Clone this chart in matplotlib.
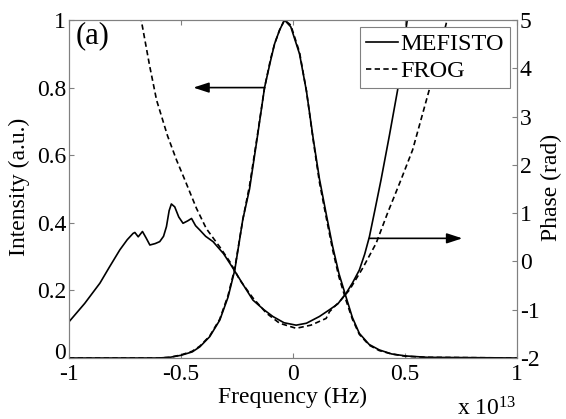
import matplotlib
matplotlib.use("Agg")
import matplotlib.pyplot as plt
from matplotlib.ticker import FuncFormatter, MultipleLocator
import numpy as np

plt.rcParams.update({
    "font.family": ["Liberation Serif", "DejaVu Serif"],
    "font.size": 17,
    "mathtext.fontset": "custom",
    "mathtext.rm": "Liberation Serif",
    "mathtext.it": "Liberation Serif:italic",
    "axes.linewidth": 0.8,
})

SCALE = 1e13  # frequency axis scaling (Hz)

# intensity spectra (a.u.), frequency in units of 1e13 Hz
int_mef_x = [-1.0, -0.6, -0.55, -0.5, -0.45, -0.416, -0.372, -0.327, -0.29, -0.26,
             -0.224, -0.194, -0.16, -0.127, -0.10, -0.082, -0.06, -0.038, -0.01,
             0.029, 0.06, 0.09, 0.118, 0.15, 0.177, 0.205, 0.237, 0.265, 0.296,
             0.34, 0.385, 0.44, 0.504, 0.6, 1.0]
int_mef_y = [0.0, 0.0, 0.002, 0.008, 0.018, 0.033, 0.063, 0.112, 0.18, 0.26,
             0.41, 0.50, 0.65, 0.80, 0.88, 0.93, 0.97, 1.0, 0.98,
             0.90, 0.79, 0.65, 0.53, 0.42, 0.33, 0.25, 0.18, 0.12, 0.073,
             0.04, 0.024, 0.012, 0.006, 0.002, 0.0]

int_frog_x = int_mef_x
int_frog_y = [0.0, 0.0, 0.002, 0.009, 0.02, 0.035, 0.065, 0.115, 0.185, 0.265,
              0.41, 0.51, 0.655, 0.80, 0.885, 0.93, 0.97, 1.0, 0.985,
              0.905, 0.79, 0.645, 0.52, 0.41, 0.32, 0.24, 0.17, 0.115, 0.07,
              0.038, 0.022, 0.012, 0.005, 0.002, 0.0]

# spectral phase (rad)
ph_mef_x = [-1.0, -0.93, -0.862, -0.82, -0.773, -0.74, -0.714, -0.706, -0.691, -0.672,
            -0.655, -0.639, -0.615, -0.595, -0.578, -0.565, -0.553, -0.543, -0.528,
            -0.51, -0.491, -0.47, -0.453, -0.435, -0.416, -0.39, -0.357, -0.31,
            -0.268, -0.22, -0.179, -0.13, -0.09, -0.04, 0.014, 0.06, 0.118, 0.163,
            0.2, 0.237, 0.265, 0.296, 0.32, 0.341, 0.365, 0.393, 0.43, 0.467, 0.51, 0.53]
ph_mef_y = [-1.25, -0.87, -0.45, -0.12, 0.24, 0.45, 0.58, 0.60, 0.51, 0.62,
            0.48, 0.34, 0.37, 0.41, 0.52, 0.72, 1.05, 1.19, 1.13,
            0.92, 0.79, 0.84, 0.89, 0.74, 0.65, 0.52, 0.41, 0.16,
            -0.14, -0.50, -0.80, -1.0, -1.14, -1.27, -1.32, -1.28, -1.14, -1.0,
            -0.88, -0.66, -0.45, -0.18, 0.15, 0.51, 1.05, 1.69, 2.6, 3.55, 5.0, 5.5]

ph_frog_x = [-0.70, -0.676, -0.64, -0.609, -0.56, -0.52, -0.483, -0.431, -0.387,
             -0.327, -0.28, -0.238, -0.18, -0.119, -0.06, 0.014, 0.08, 0.148,
             0.163, 0.21, 0.252, 0.311, 0.371, 0.422, 0.482, 0.534, 0.608, 0.688, 0.72]
ph_frog_y = [5.5, 4.96, 4.05, 3.34, 2.6, 2.10, 1.69, 1.10, 0.68,
             0.30, -0.02, -0.38, -0.75, -1.07, -1.28, -1.385, -1.32, -1.18,
             -1.04, -0.82, -0.59, -0.14, 0.375, 1.0, 1.69, 2.31, 3.55, 5.0, 5.6]

GRAY = "#808080"

fig = plt.figure(figsize=(5.66, 4.19), dpi=100)
ax = fig.add_axes([69 / 566, 1 - 358 / 419, (517 - 69) / 566, (358 - 20) / 419])
ax2 = ax.twinx()

f = lambda v: np.asarray(v) * SCALE
ls_dash = (0, (3.2, 2.0))

ax.plot(f(int_mef_x), int_mef_y, color="black", lw=1.2)
ax.plot(f(int_frog_x), int_frog_y, color="black", lw=1.2, linestyle=ls_dash)
ax2.plot(f(ph_mef_x), ph_mef_y, color="black", lw=1.2, label="MEFISTO")
ax2.plot(f(ph_frog_x), ph_frog_y, color="black", lw=1.2, linestyle=ls_dash, label="FROG")

ax.set_xlim(-SCALE, SCALE)
ax.set_ylim(0, 1)
ax2.set_ylim(-2, 5)

fmt = lambda v: ("%g" % v).replace("\u2212", "-")
ax.xaxis.set_major_locator(MultipleLocator(0.5 * SCALE))
ax.xaxis.set_major_formatter(FuncFormatter(lambda v, p: fmt(round(v / SCALE, 3))))
ax.yaxis.set_major_locator(MultipleLocator(0.2))
# the "0" label is drawn separately, slightly lifted, so it clears the "-1"
ax.yaxis.set_major_formatter(FuncFormatter(lambda v, p: "" if abs(v) < 1e-9 else fmt(round(v, 3))))
ax2.yaxis.set_major_locator(MultipleLocator(1))
ax2.yaxis.set_major_formatter(FuncFormatter(lambda v, p: fmt(round(v, 3))))

for a in (ax, ax2):
    for s in a.spines.values():
        s.set_color(GRAY)
ax.tick_params(axis="x", direction="in", top=True, length=3.5, color=GRAY, pad=4.5)
ax.tick_params(axis="y", direction="in", right=False, length=3.5, color=GRAY, pad=2)
ax2.tick_params(axis="y", direction="in", length=3.5, color=GRAY, pad=2)

ax.annotate("0", xy=(0, 0), xycoords=("axes fraction", "data"), xytext=(-2, 3),
            textcoords="offset points", ha="right", va="center")

# arrows pointing to the relevant axis
arrow = dict(arrowstyle="-|>,head_length=0.55,head_width=0.18",
             color="black", lw=1.2, shrinkA=0, shrinkB=0)
ax.annotate("", xy=(-0.445 * SCALE, 0.8), xytext=(-0.127 * SCALE, 0.8), arrowprops=arrow)
ax.annotate("", xy=(0.756 * SCALE, 0.354), xytext=(0.341 * SCALE, 0.354), arrowprops=arrow)

ax.text(0.014, 0.995, "(a)", transform=ax.transAxes, fontsize=22, ha="left", va="top")

leg = ax2.legend(loc="upper right", fontsize=17.5, frameon=True, fancybox=False,
                 handlelength=1.3, handletextpad=0.1, labelspacing=0.2,
                 borderpad=0.25, borderaxespad=0.3, framealpha=1)
leg.get_frame().set_edgecolor(GRAY)
leg.get_frame().set_linewidth(0.8)

fig.text(0.516, 1 - 403 / 419, "Frequency (Hz)", ha="center", va="baseline")
fig.text(0.035, 0.553, "Intensity (a.u.)", rotation=90, ha="center", va="center")
fig.text(0.975, 0.553, "Phase (rad)", rotation=90, ha="center", va="center")
fig.text(0.913, 1 - 415 / 419, "x 10$^{13}$", ha="right", va="baseline")

fig.savefig("out.png", dpi=100)
